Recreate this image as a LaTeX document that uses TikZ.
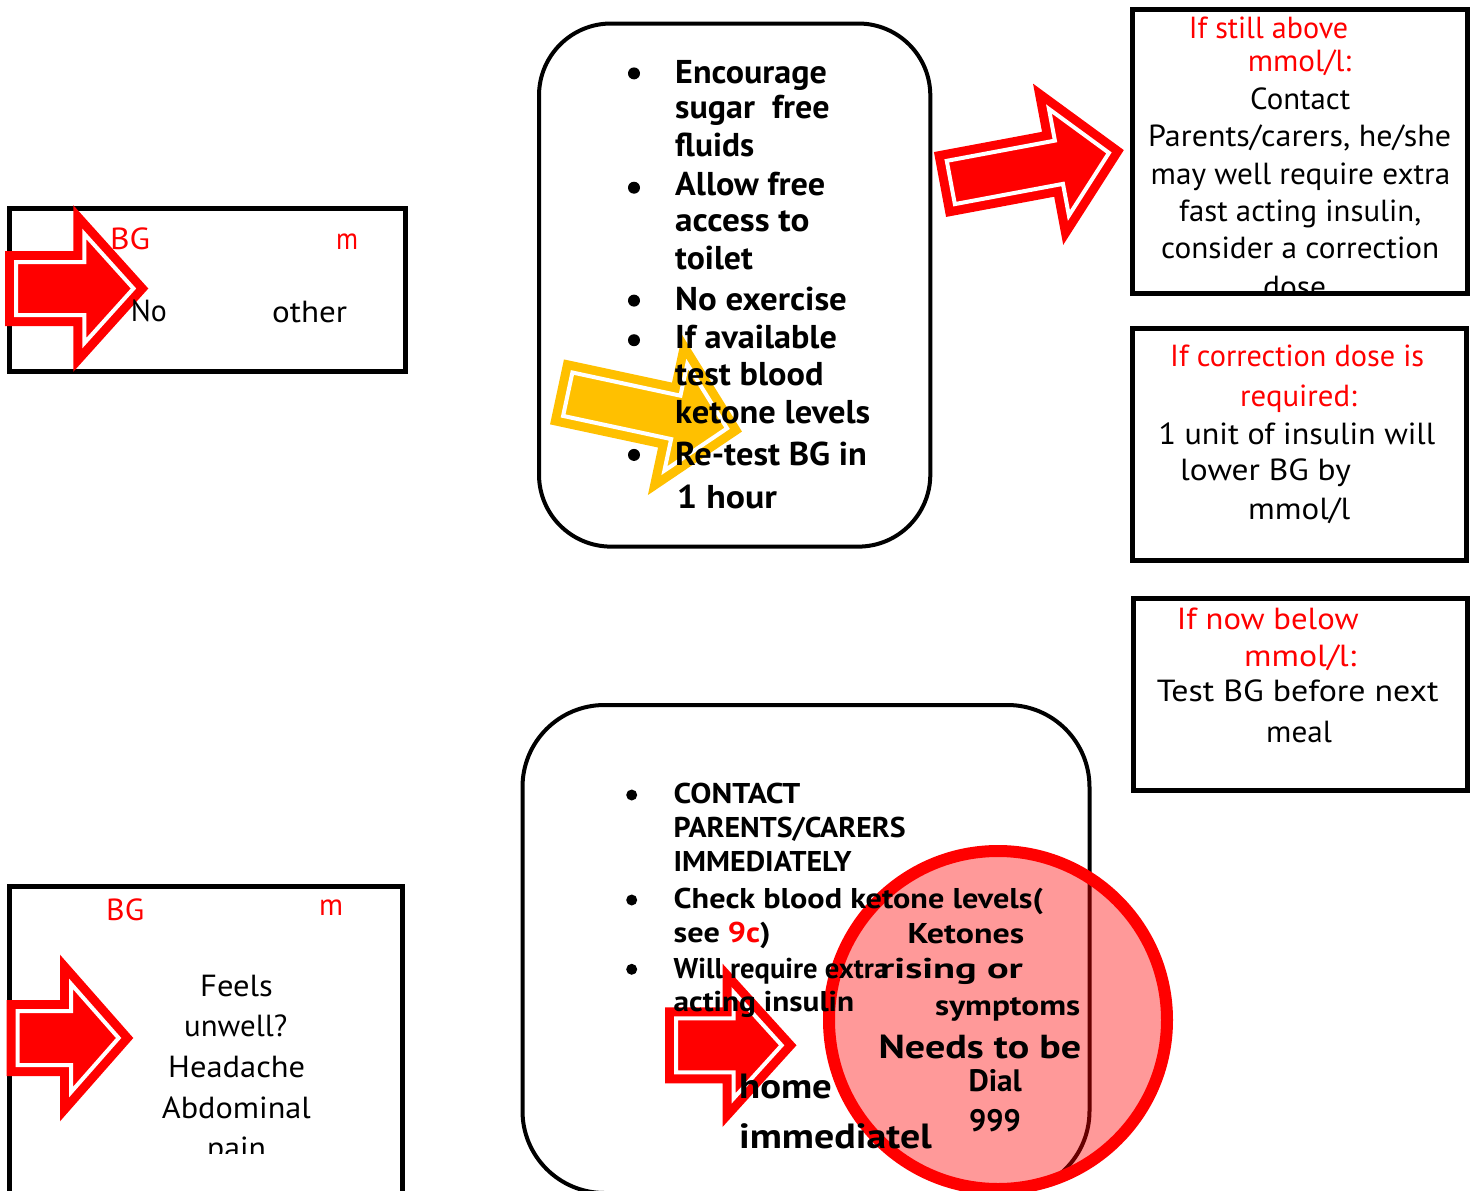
\documentclass[tikz,border=0pt]{standalone}
\usepackage{fontspec}
\usepackage{graphicx}
\setmainfont{PT Sans}
\definecolor{ambery}{HTML}{FFC000}
\tikzset{
  sqbox/.style={draw=black, line width=5pt},
  rbox/.style={draw=black, line width=4pt},
  redarr/.style={draw=red, fill=red, double=white, line width=9pt, double distance=4pt, miter limit=10},
  yelarr/.style={draw=ambery, fill=ambery, double=white, line width=9pt, double distance=4pt, miter limit=10},
  circ/.style={draw=red, line width=12pt, fill=red, fill opacity=0.4},
  bul/.style={fill=black},
  tx/.style={inner sep=0pt, anchor=base west, font=\fontsize{30.5}{36}\selectfont},
  txr/.style={tx, text=red},
  tb/.style={inner sep=0pt, anchor=base west, font=\bfseries\fontsize{33}{40}\selectfont},
  tc/.style={inner sep=0pt, anchor=base west, font=\bfseries\fontsize{28.6}{34}\selectfont},
  tc2/.style={inner sep=0pt, anchor=base west, font=\bfseries\fontsize{31}{37}\selectfont},
  tn/.style={inner sep=0pt, anchor=base west, font=\bfseries\fontsize{33.3}{40}\selectfont},
  th/.style={inner sep=0pt, anchor=base west, font=\bfseries\fontsize{35}{42}\selectfont},
}
% #1 style, #2 x tail, #3 y axis, #4 angle, #5 length, #6 shaft half, #7 head half, #8 head length (outer sizes)
\newcommand\blockarr[8]{%
  \pgfmathsetmacro\aT{atan(#7/#8)}%
  \pgfmathsetmacro\aK{11/sin(\aT)}%
  \pgfmathsetmacro\aBX{#5-#8+11}%
  \pgfmathsetmacro\aTX{#5-\aK}%
  \pgfmathsetmacro\aS{#6-11}%
  \pgfmathsetmacro\aH{#7*(#8-11-\aK)/#8}%
  \draw[#1, shift={(#2,#3)}, rotate=#4] (11,-\aS) -- (\aBX,-\aS) -- (\aBX,-\aH) -- (\aTX,0) -- (\aBX,\aH) -- (\aBX,\aS) -- (11,\aS) -- cycle;%
}
\newcommand\tl[5][]{\node[#1] (#2) at (#3) {\resizebox{#4pt}{\height}{#5}};}
\begin{document}
\begin{tikzpicture}[x=1pt, y=-1pt]
\fill[white] (0,0) rectangle (1473,1191);
\useasboundingbox (0,0) rectangle (1473,1191);

% boxes
\draw[sqbox] (9,208.5) rectangle (405.5,371.5);
\draw[sqbox] (1132.5,9.3) rectangle (1467.5,293.3);
\draw[sqbox] (1132,328.5) rectangle (1466.8,560.8);
\draw[sqbox] (1133.5,598.5) rectangle (1467.5,790.2);
\draw[sqbox] (9.2,886) rectangle (402,1210);
\draw[rbox, rounded corners=72pt] (539,23.5) rectangle (930.3,546.6);
\draw[rbox, rounded corners=82pt] (522.5,705) rectangle (1089.5,1193);

% arrows
\blockarr{redarr}{5}{288.5}{0}{143.3}{37.5}{83.3}{75}
\blockarr{redarr}{940}{184.5}{10.6}{187}{33}{82}{77}
\blockarr{redarr}{6.7}{1038}{0}{126.6}{38}{83.3}{73.3}
\blockarr{redarr}{665}{1045.3}{0}{131.5}{38}{81.7}{74}
\blockarr{yelarr}{557}{391.9}{-12.1}{189.2}{33.2}{81.8}{78.7}

% circle
\draw[circ] (998,1020) circle (169pt);

% box 1 text
\tl[txr]{b1bg}{110,249}{40}{BG}
\tl[txr]{b1m}{336,249}{22}{m}
\tl[tx]{b1no}{130.7,321.7}{36}{No}
\tl[tx]{b1oth}{272,322}{75}{other}

% box A text
\begin{scope}
\clip (1135,12) rectangle (1465,291);
\tl[txr]{aL1}{1188.7,38.3}{159.3}{If still above}
\tl[txr]{aL2}{1247.7,71.7}{103.3}{mmol/l:}
\tl[tx]{aL3}{1250,109}{100}{Contact}
\tl[tx]{aL4}{1148,146.7}{303}{Parents/carers, he/she}
\tl[tx]{aL5}{1150.5,184}{299.5}{may well require extra}
\tl[tx]{aL6}{1179,221.7}{242}{fast acting insulin,}
\tl[tx]{aL7}{1161,258}{278}{consider a correction}
\tl[tx]{aL8}{1263,297}{63}{dose}
\end{scope}

% box B text
\tl[txr]{bL1}{1170,366}{254}{If correction dose is}
\tl[txr]{bL2}{1240,406}{116.7}{required:}
\tl[tx]{bL3}{1158.3,444}{276.7}{1 unit of insulin will}
\tl[tx]{bL4}{1180,480.7}{170.7}{lower BG by}
\tl[tx]{bL5}{1248,519.3}{102}{mmol/l}

% box C text
\tl[txr]{cL1}{1176.7,629.3}{181.6}{If now below}
\tl[txr]{cL2}{1244,666}{112}{mmol/l:}
\tl[tx]{cL3}{1156.7,701.7}{281.6}{Test BG before next}
\tl[tx]{cL4}{1266,742.7}{65.7}{meal}

% box D text
\tl[txr]{dbg}{106,920}{38}{BG}
\tl[txr]{dm}{319,915}{24}{m}
\begin{scope}
\clip (12,889) rectangle (399,1153);
\tl[tx]{dL1}{200,996}{72.7}{Feels}
\tl[tx]{dL2}{184,1036.7}{103}{unwell?}
\tl[tx]{dL3}{168,1077.3}{137}{Headache}
\tl[tx]{dL4}{161.7,1118.3}{149}{Abdominal}
\tl[tx]{dL5}{207,1158}{58.7}{pain}
\end{scope}

% top middle bullets
\foreach \by in {73.4,187.7,300.6,340.2,454.9} \fill[bul] (634,\by) circle (6pt);
\tl[tb]{m1}{675,83}{151.7}{Encourage}
\tl[tb]{m2}{675,118.1}{154.3}{sugar\ \ free}
\tl[tb]{m3}{675,156}{79}{fluids}
\tl[tb]{m4}{675,195.6}{150}{Allow free}
\tl[tb]{m5}{675,231.8}{134.3}{access to}
\tl[tb]{m6}{675,269.7}{77.7}{toilet}
\tl[tb]{m7}{675,310}{171.7}{No exercise}
\tl[tb]{m8}{675,348.9}{161.7}{If available}
\tl[tb]{m9}{675,385.7}{148.3}{test blood}
\tl[tb]{m10}{675,423.6}{195}{ketone levels}
\tl[tb]{m11}{675,465.2}{191.7}{Re-test BG in}
\tl[tb]{m12}{676.7,508.3}{100}{1 hour}

% bottom box bullets
\foreach \by in {795,900,969.3} \fill[bul] (631.7,\by) circle (5.5pt);
\tl[tc]{n1}{673.5,803.3}{126.5}{CONTACT}
\tl[tc]{n2}{673.5,837.3}{232}{PARENTS/CARERS}
\tl[tc]{n3}{673.5,871.7}{177.8}{IMMEDIATELY}
\tl[tc]{n4}{673.5,908.3}{369.3}{Check blood ketone levels(}
\tl[tc]{n5}{673.5,942.7}{97}{see \textcolor{red}{9c})}
\tl[tc]{n6}{673.5,978.3}{214.5}{Will require extra}
\tl[tc]{n7}{673.5,1011.7}{180.5}{acting insulin}
\tl[th]{n8}{739,1098.3}{92.7}{home}
\tl[th]{n9}{739,1148.3}{192.7}{immediatel}

% circle text
\tl[tc]{k1}{907.3,943.3}{116.7}{Ketones}
\tl[tc]{k2}{880,978.3}{142.7}{rising or}
\tl[tc]{k3}{935,1015}{145}{symptoms}
\tl[tn]{k4}{878.3,1058.3}{202.7}{Needs to be}
\tl[tc2]{k5}{968.3,1091.7}{53.4}{Dial}
\tl[tc2]{k6}{969,1131.7}{51.7}{999}
\end{tikzpicture}
\end{document}
